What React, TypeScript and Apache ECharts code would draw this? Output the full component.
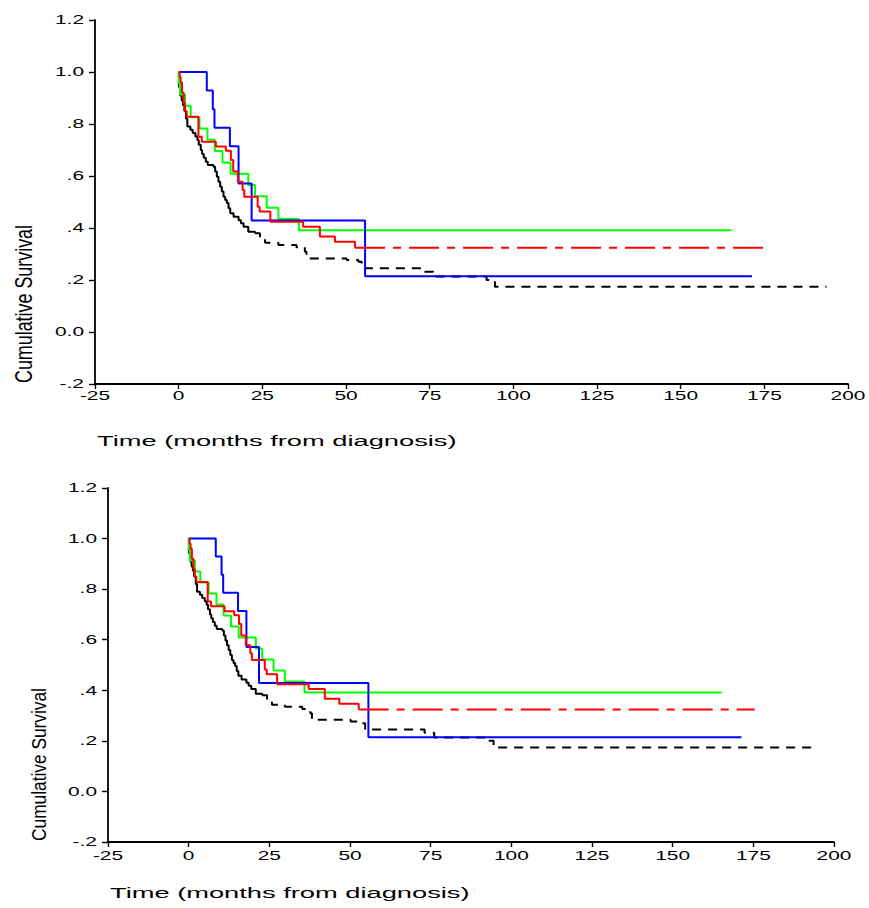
import React, { useEffect, useRef } from 'react';
import * as echarts from 'echarts';

// ---- tick values & labels ----
const X_TICKS = [-25, 0, 25, 50, 75, 100, 125, 150, 175, 200];
const X_TICK_LABELS = ['-25', '0', '25', '50', '75', '100', '125', '150', '175', '200'];
const Y_TICKS = [-0.2, 0, 0.2, 0.4, 0.6, 0.8, 1.0, 1.2];
const Y_TICK_LABELS = ['-.2', '0.0', '.2', '.4', '.6', '.8', '1.0', '1.2'];
const X_TITLE = 'Time (months from diagnosis)';
const Y_TITLE = 'Cumulative Survival';

// ---- Kaplan-Meier step data (time in months, cumulative survival) ----
const BLUE_T = [0, 8.4, 10.2, 10.7, 15.3, 17.9, 21.8, 55.7, 171.3];
const BLUE_S = [1.0, 0.929, 0.857, 0.786, 0.714, 0.571, 0.429, 0.214, 0.214];

const GREEN_T = [0, 0, 0.4, 1.9, 3.6, 6.2, 8.6, 10.8, 13.1, 15.5, 20.8, 22.8, 26.3, 29.8, 35.9, 165.2];
const GREEN_S = [1.0, 0.957, 0.913, 0.87, 0.826, 0.783, 0.739, 0.696, 0.652, 0.609, 0.565, 0.522, 0.478, 0.435, 0.391, 0.391];

const RED_T = [0, 0.3, 0.6, 1.0, 1.5, 1.9, 2.4, 5.9, 6.9, 11.1, 14.1, 15.6, 16.3, 17.7, 19.1, 19.6, 23.6, 24.2, 27.4, 37.2, 42.2, 46.7, 52.7];
const RED_S = [1.0, 0.98, 0.96, 0.92, 0.88, 0.85, 0.828, 0.751, 0.732, 0.713, 0.697, 0.662, 0.617, 0.578, 0.546, 0.52, 0.482, 0.463, 0.424, 0.405, 0.367, 0.347, 0.324];
const RED_TAIL_T = [52.7, 175.4];
const RED_TAIL_S = [0.324, 0.324];

const BLACK_T = [0, 0.2, 0.5, 0.9, 1.3, 1.7, 2.2, 2.6, 3.5, 4.2, 5.0, 5.6, 6.0, 6.6, 7.0, 7.5, 8.1, 8.7, 10.4, 10.9, 11.4, 11.9, 12.4, 12.9, 13.4, 13.9, 14.4, 14.9, 15.4, 16.4, 17.9, 18.6, 19.4, 20.8, 22.8];
const BLACK_S = [0.96, 0.94, 0.91, 0.89, 0.873, 0.85, 0.82, 0.79, 0.778, 0.765, 0.752, 0.738, 0.72, 0.7, 0.685, 0.67, 0.655, 0.642, 0.636, 0.617, 0.597, 0.578, 0.559, 0.54, 0.52, 0.508, 0.496, 0.476, 0.457, 0.443, 0.43, 0.418, 0.405, 0.386, 0.38];
const BLACK_TAIL_T = [22.8, 24.3, 25.8, 29.8, 35.2, 37.7, 38.2, 50.2, 53.7, 54.7, 73.1, 76.1, 92.0, 94.5, 193.6];
const BLACK_TAIL_S = [0.38, 0.36, 0.343, 0.335, 0.326, 0.309, 0.283, 0.277, 0.27, 0.245, 0.232, 0.213, 0.2, 0.174, 0.174];

const pairs = (t: number[], s: number[]) => t.map((x, i) => [x, s[i]]);

// ---- layout of the two identical panels ----
const PANELS = [
  { grid: { left: 95, top: 20, width: 753, height: 364 }, xLabelGap: 12, xTitleGap: 57, yTitleX: 24, yTitleLen: 158, yTitleThick: 1.45 },
  { grid: { left: 108, top: 488, width: 726, height: 354 }, xLabelGap: 14, xTitleGap: 51, yTitleX: 39, yTitleLen: 153, yTitleThick: 1.3 },
];

const FONT = 'Liberation Sans, Arial, sans-serif';

export default function App() {
  const ref = useRef<HTMLDivElement>(null);

  useEffect(() => {
    const chart = echarts.init(ref.current!, null, { renderer: 'svg' });

    const axisLine = { show: true, onZero: false, lineStyle: { color: '#000', width: 1.8 } };
    const grids: any[] = [];
    const xAxes: any[] = [];
    const yAxes: any[] = [];
    const series: any[] = [];

    PANELS.forEach((p, gi) => {
      grids.push({ ...p.grid, containLabel: false });
      xAxes.push({
        type: 'value', gridIndex: gi, min: -25, max: 200, interval: 25,
        axisLine, axisTick: { show: true, length: 5, inside: false, lineStyle: { color: '#000', width: 1.4 } },
        axisLabel: { show: false }, splitLine: { show: false },
      });
      yAxes.push({
        type: 'value', gridIndex: gi, min: -0.2, max: 1.2, interval: 0.2,
        axisLine, axisTick: { show: true, length: 6, inside: false, lineStyle: { color: '#000', width: 1.4 } },
        axisLabel: { show: false }, splitLine: { show: false },
      });
      const base = { type: 'line', xAxisIndex: gi, yAxisIndex: gi, step: 'end', symbol: 'none', silent: true };
      series.push({ ...base, name: 'black', data: pairs(BLACK_T, BLACK_S), lineStyle: { color: '#000000', width: 2 } });
      series.push({ ...base, name: 'black-tail', data: pairs(BLACK_TAIL_T, BLACK_TAIL_S), lineStyle: { color: '#000000', width: 2, type: [9, 7] } });
      series.push({ ...base, name: 'green', data: pairs(GREEN_T, GREEN_S), lineStyle: { color: '#00ff00', width: 2 } });
      series.push({ ...base, name: 'blue', data: pairs(BLUE_T, BLUE_S), lineStyle: { color: '#0000ff', width: 2 } });
      series.push({ ...base, name: 'red', data: pairs(RED_T, RED_S), lineStyle: { color: '#ff0000', width: 2 } });
      series.push({ ...base, name: 'red-tail', data: pairs(RED_TAIL_T, RED_TAIL_S), lineStyle: { color: '#ff0000', width: 2, type: [30, 8, 8, 8] } });
    });

    chart.setOption({
      animation: false,
      backgroundColor: '#ffffff',
      grid: grids,
      xAxis: xAxes,
      yAxis: yAxes,
      series,
    });

    const graphics: any[] = [];
    PANELS.forEach((p, gi) => {
      X_TICKS.forEach((v, i) => {
        const [px, py] = chart.convertToPixel({ gridIndex: gi }, [v, -0.2]) as number[];
        graphics.push({
          type: 'text', x: px, y: py + p.xLabelGap, scaleX: 1.7, silent: true,
          style: { text: X_TICK_LABELS[i], fontFamily: FONT, fontSize: 12.3, fill: '#000', align: 'center', verticalAlign: 'middle' },
        });
      });
      Y_TICKS.forEach((v, i) => {
        const [px, py] = chart.convertToPixel({ gridIndex: gi }, [-25, v]) as number[];
        graphics.push({
          type: 'text', x: px - 11, y: py, scaleX: 1.7, silent: true,
          style: { text: Y_TICK_LABELS[i], fontFamily: FONT, fontSize: 12.3, fill: '#000', align: 'right', verticalAlign: 'middle' },
        });
      });
      const [ox, oy] = chart.convertToPixel({ gridIndex: gi }, [-25, -0.2]) as number[];
      graphics.push({
        type: 'text', x: ox + 2, y: oy + p.xTitleGap, scaleX: 1.76, silent: true,
        style: { text: X_TITLE, fontFamily: FONT, fontSize: 15.5, fill: '#000', align: 'left', verticalAlign: 'middle' },
      });
      const fs = 16;
      const natural = 8.835 * fs;
      graphics.push({
        type: 'text', x: p.yTitleX, y: oy - 1 - p.yTitleLen / 2, rotation: Math.PI / 2,
        scaleX: p.yTitleLen / natural, scaleY: p.yTitleThick, silent: true,
        style: { text: Y_TITLE, fontFamily: FONT, fontSize: fs, fill: '#000', align: 'center', verticalAlign: 'middle' },
      });
    });
    chart.setOption({ graphic: graphics });

    return () => chart.dispose();
  }, []);

  return (
    <div
      ref={ref}
      style={{ position: 'fixed', left: 0, top: 0, width: 869, height: 908, background: '#ffffff' }}
    />
  );
}
